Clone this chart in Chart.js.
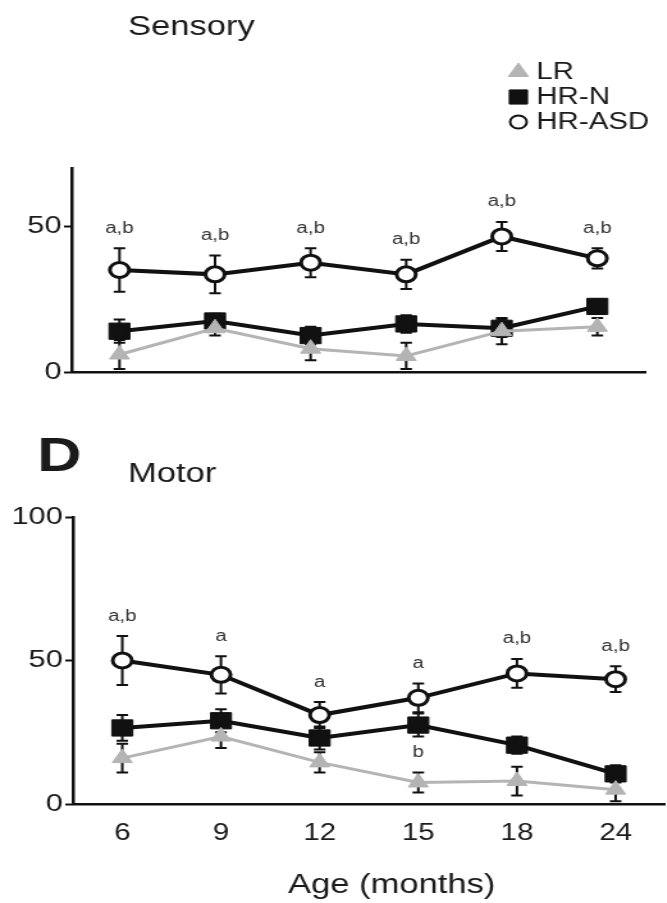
<!DOCTYPE html>
<html>
<head>
<meta charset="utf-8">
<title>Sensory / Motor</title>
<script src="https://cdn.jsdelivr.net/npm/chart.js@4.4.1/dist/chart.umd.min.js"></script>
<style>
  html, body { margin: 0; padding: 0; background: #fff; overflow: hidden; width: 667px; height: 903px; }
  /* the figure is drawn narrow and stretched sideways */
  .panel { position: absolute; left: 0; transform: scaleX(1.28); transform-origin: 0 0; }
  #panel-sensory { top: 0; width: 521px; height: 400px; }
  #panel-motor { top: 400px; width: 532px; height: 503px; }
</style>
</head>
<body>
<div class="panel" id="panel-sensory"><canvas id="sensory"></canvas></div>
<div class="panel" id="panel-motor"><canvas id="motor"></canvas></div>
<script>
const ages = ['6', '9', '12', '15', '18', '24'];
const groups = ['LR', 'HR-N', 'HR-ASD'];

// Sensory scores, mean and SEM
const sensoryLR = [6, 15, 8, 5.5, 14, 15.5];
const sensoryLRErr = [5, 2.5, 4, 4.5, 4.5, 3];
const sensoryHRN = [14, 17.5, 12.5, 16.5, 15, 22.5];
const sensoryHRNErr = [4, 2.5, 3, 3, 3, 2.5];
const sensoryASD = [35, 33.5, 37.5, 33.5, 46.5, 39];
const sensoryASDErr = [7.5, 6.5, 5, 5, 5, 3.5];
const sensoryASDMarks = ['a,b', 'a,b', 'a,b', 'a,b', 'a,b', 'a,b'];
const sensoryLRMarks = ['', '', '', '', '', ''];
const sensoryTicks = [0, 50];

// Motor scores, mean and SEM
const motorLR = [16, 23.5, 14.5, 7.5, 8, 5];
const motorLRErr = [5, 4, 3.5, 3.5, 5, 4];
const motorHRN = [26.5, 29, 23, 27.5, 20.5, 10.5];
const motorHRNErr = [4.5, 4, 4, 4, 3, 3];
const motorASD = [50, 45, 31, 37, 45.5, 43.5];
const motorASDErr = [8.5, 6.5, 4.5, 5, 5, 4.5];
const motorASDMarks = ['a,b', 'a', 'a', 'a', 'a,b', 'a,b'];
const motorLRMarks = ['', '', '', 'b', '', ''];
const motorTicks = [0, 50, 100];

const FONT = '"Liberation Sans", Arial, Helvetica, sans-serif';
const INK = '#111';
const GREY = '#b4b4b4';

// mean ± SEM whiskers, drawn under the lines
const errorBars = {
  id: 'errorBars',
  beforeDatasetsDraw(chart) {
    const { ctx } = chart;
    const y = chart.scales.y;
    ctx.save();
    ctx.strokeStyle = INK;
    ctx.lineWidth = 2;
    chart.data.datasets.forEach((ds, di) => {
      const meta = chart.getDatasetMeta(di);
      ds.data.forEach((v, i) => {
        const e = ds.errors[i];
        const x = meta.data[i].x;
        const top = y.getPixelForValue(v + e);
        const bot = y.getPixelForValue(v - e);
        ctx.beginPath();
        ctx.moveTo(x, top); ctx.lineTo(x, bot);
        ctx.moveTo(x - 4.5, top); ctx.lineTo(x + 4.5, top);
        ctx.moveTo(x - 4.5, bot); ctx.lineTo(x + 4.5, bot);
        ctx.stroke();
      });
    });
    ctx.restore();
  },
};

// significance letters above the upper whisker
const sigMarks = {
  id: 'sigMarks',
  afterDatasetsDraw(chart) {
    const { ctx } = chart;
    const y = chart.scales.y;
    ctx.save();
    ctx.font = '16px ' + FONT;
    ctx.fillStyle = '#333';
    ctx.textAlign = 'center';
    ctx.textBaseline = 'middle';
    chart.data.datasets.forEach((ds, di) => {
      if (!ds.marks) return;
      const meta = chart.getDatasetMeta(di);
      ds.marks.forEach((m, i) => {
        if (!m) return;
        const top = y.getPixelForValue(ds.data[i] + ds.errors[i]);
        ctx.fillText(m, meta.data[i].x, top - 20);
      });
    });
    ctx.restore();
  },
};

// panel titles, letters and the legend
const panelText = {
  id: 'panelText',
  afterDraw(chart, args, opts) {
    const { ctx } = chart;
    ctx.save();
    ctx.fillStyle = '#1a1a1a';
    ctx.textBaseline = 'alphabetic';
    (opts.items || []).forEach(t => {
      ctx.font = t.font;
      ctx.textAlign = t.align || 'left';
      ctx.fillText(t.text, t.x, t.y);
    });
    if (opts.legend) {
      const { x, y, gap } = opts.legend;
      ctx.font = '23px ' + FONT;
      ctx.textAlign = 'left';
      ctx.textBaseline = 'middle';
      chart.data.datasets.forEach((ds, i) => {
        const ry = y + i * gap;
        ctx.fillStyle = ds.pointBackgroundColor;
        ctx.strokeStyle = ds.pointBorderColor;
        ctx.lineWidth = ds.legendBorder;
        Chart.helpers.drawPoint(ctx, {
          pointStyle: ds.pointStyle, rotation: 0,
          radius: ds.legendRadius, borderWidth: ds.legendBorder,
        }, x, ry);
        ctx.fillStyle = '#1a1a1a';
        ctx.fillText(ds.label, x + 14, ry + 1);
      });
    }
    ctx.restore();
  },
};

function makeDatasets(lr, lrErr, lrMarks, hrn, hrnErr, asd, asdErr, asdMarks) {
  return [
    {
      label: groups[0], data: lr, errors: lrErr, marks: lrMarks,
      borderColor: GREY, borderWidth: 3,
      pointStyle: 'triangle', pointRadius: 9, pointBorderWidth: 1,
      pointBackgroundColor: GREY, pointBorderColor: GREY,
      legendRadius: 9, legendBorder: 1,
    },
    {
      label: groups[1], data: hrn, errors: hrnErr,
      borderColor: INK, borderWidth: 4,
      pointStyle: 'rect', pointRadius: 11.5, pointBorderWidth: 1,
      pointBackgroundColor: INK, pointBorderColor: INK,
      legendRadius: 10, legendBorder: 1,
    },
    {
      label: groups[2], data: asd, errors: asdErr, marks: asdMarks,
      borderColor: INK, borderWidth: 4,
      pointStyle: 'circle', pointRadius: 7.5, pointBorderWidth: 3,
      pointBackgroundColor: '#fff', pointBorderColor: INK,
      legendRadius: 6.5, legendBorder: 2,
    },
  ];
}

function buildPanel(id, cfg) {
  return new Chart(document.getElementById(id), {
    type: 'line',
    data: { labels: ages, datasets: cfg.datasets },
    plugins: [errorBars, sigMarks, panelText],
    options: {
      responsive: true,
      maintainAspectRatio: false,
      animation: false,
      layout: { padding: cfg.padding },
      elements: { line: { tension: 0 } },
      datasets: { line: { clip: false } },
      plugins: {
        legend: { display: false },
        tooltip: { enabled: false },
        panelText: cfg.text,
      },
      scales: {
        x: {
          type: 'category',
          offset: true,
          grid: { display: false, drawTicks: false },
          border: { display: true, color: INK, width: 2.5 },
          ticks: {
            display: cfg.showAges,
            color: '#1a1a1a',
            font: { family: FONT, size: 23 },
            padding: 16,
            maxRotation: 0,
          },
          afterFit: (s) => { s.height = cfg.xHeight; },
        },
        y: {
          min: 0,
          max: cfg.yMax,
          grid: {
            display: true, drawOnChartArea: false, drawTicks: true,
            tickLength: 6, tickWidth: 2, tickColor: INK,
          },
          border: { display: true, color: INK, width: 2.5 },
          ticks: {
            stepSize: 10,
            color: '#1a1a1a',
            font: { family: FONT, size: 24 },
            padding: 2,
          },
          afterBuildTicks: (s) => {
            s.ticks = cfg.yTicks.map(v => ({ value: v }));
          },
          afterFit: (s) => { s.width = cfg.yWidth; },
        },
      },
    },
  });
}

buildPanel('sensory', {
  datasets: makeDatasets(sensoryLR, sensoryLRErr, sensoryLRMarks, sensoryHRN, sensoryHRNErr,
    sensoryASD, sensoryASDErr, sensoryASDMarks),
  yMax: 70,
  yTicks: sensoryTicks,
  yWidth: 56,
  showAges: false,
  xHeight: 28,
  padding: { top: 168, right: 17, left: 0, bottom: 0 },
  text: {
    items: [{ text: 'Sensory', x: 100, y: 35, font: '27px ' + FONT }],
    legend: { x: 405, y: 72, gap: 25 },
  },
});

buildPanel('motor', {
  datasets: makeDatasets(motorLR, motorLRErr, motorLRMarks, motorHRN, motorHRNErr,
    motorASD, motorASDErr, motorASDMarks),
  yMax: 100,
  yTicks: motorTicks,
  yWidth: 57,
  showAges: true,
  xHeight: 99,
  padding: { top: 117, right: 2, left: 0, bottom: 0 },
  text: {
    items: [
      { text: 'D', x: 29, y: 71, font: 'bold 48px ' + FONT },
      { text: 'Motor', x: 100, y: 82, font: '27px ' + FONT },
      { text: 'Age (months)', x: 306, y: 493, font: '27px ' + FONT, align: 'center' },
    ],
  },
});
</script>
</body>
</html>
